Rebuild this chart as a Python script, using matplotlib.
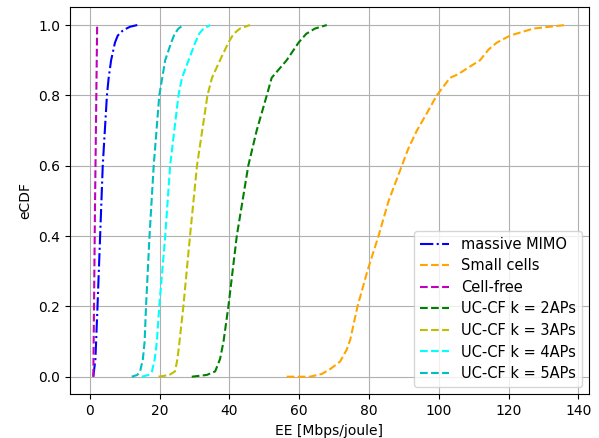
import numpy as np
import matplotlib
matplotlib.use("Agg")
import matplotlib.pyplot as plt

# eCDF: EE values (Mbps/joule) at the given CDF levels
mmimo_p = [0.0, 0.05, 0.2, 0.4, 0.6, 0.8, 0.85, 0.9, 0.95, 0.97, 0.985, 0.995, 1.0]
mmimo_x = [1.0, 1.6, 2.2, 2.95, 3.7, 4.9, 5.4, 6.1, 7.2, 8.0, 9.5, 11.5, 13.6]

small_p = [0.0, 0.0, 0.008, 0.022, 0.043, 0.077, 0.105, 0.2, 0.3, 0.4, 0.5, 0.6, 0.65, 0.7,
           0.75, 0.8, 0.85, 0.86, 0.88, 0.9, 0.93, 0.95, 0.97, 0.99, 1.0]
small_x = [56.4, 63.1, 66.5, 68.9, 71.7, 73.6, 74.6, 76.7, 79.5, 82.7, 85.6, 89.4, 91.3, 93.7,
           96.6, 99.4, 103.2, 105.5, 108.6, 111.8, 114.2, 116.6, 120.4, 127.1, 136.2]

cf_p = [0.0, 0.5, 1.0]
cf_x = [1.0, 1.5, 2.1]

k2_p = [0.0, 0.005, 0.015, 0.05, 0.1, 0.2, 0.4, 0.6, 0.7, 0.8, 0.85, 0.9, 0.95, 0.975, 0.99, 1.0]
k2_x = [29.2, 33.5, 35.9, 37.3, 38.3, 39.7, 42.1, 45.4, 47.8, 50.7, 52.1, 56.4, 59.8, 62.0, 64.5, 67.9]

k3_p = [0.0, 0.005, 0.015, 0.05, 0.1, 0.2, 0.4, 0.6, 0.8, 0.85, 0.9, 0.95, 0.975, 0.99, 1.0]
k3_x = [19.7, 22.8, 24.4, 25.1, 25.7, 26.8, 28.7, 30.7, 33.7, 35.0, 37.3, 39.7, 41.2, 43.0, 45.9]

k4_p = [0.0, 0.005, 0.015, 0.05, 0.1, 0.2, 0.4, 0.6, 0.8, 0.85, 0.9, 0.95, 0.975, 0.99, 1.0]
k4_x = [14.9, 16.8, 17.8, 18.6, 19.2, 19.9, 21.6, 23.0, 25.4, 26.4, 28.3, 30.2, 31.3, 32.6, 34.5]

k5_p = [0.0, 0.005, 0.015, 0.05, 0.1, 0.2, 0.4, 0.6, 0.8, 0.9, 0.95, 0.975, 0.99, 1.0]
k5_x = [12.0, 13.6, 14.4, 15.2, 15.7, 16.1, 17.1, 18.3, 19.9, 21.6, 23.3, 24.3, 25.4, 26.8]

fig = plt.figure(figsize=(5.99, 4.38), dpi=100)
ax = fig.add_axes([0.1164, 0.0998, 0.983 - 0.1164, 0.983 - 0.0998])

ax.plot(mmimo_x, mmimo_p, 'b-.', label='massive MIMO')
ax.plot(small_x, small_p, '--', color='orange', label='Small cells')
ax.plot(cf_x, cf_p, 'm--', label='Cell-free')
ax.plot(k2_x, k2_p, 'g--', label='UC-CF k = 2APs')
ax.plot(k3_x, k3_p, 'y--', label='UC-CF k = 3APs')
ax.plot(k4_x, k4_p, '--', color='cyan', label='UC-CF k = 4APs')
ax.plot(k5_x, k5_p, 'c--', label='UC-CF k = 5APs')

ax.set_xlabel('EE [Mbps/joule]')
ax.set_ylabel('eCDF')
ax.grid(True, color='#b0b0b0')
ax.legend(loc='lower right', fontsize=10.5, labelspacing=0.45)

fig.savefig('out.png', dpi=100)
